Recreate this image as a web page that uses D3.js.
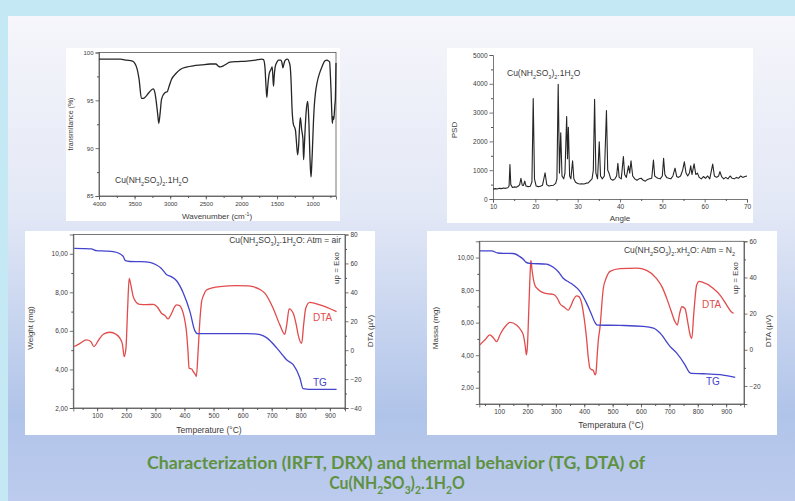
<!DOCTYPE html>
<html>
<head>
<meta charset="utf-8">
<script src="https://cdn.jsdelivr.net/npm/d3@7"></script>
<style>
  body { margin: 0; background: #c4e9f4; }
  svg { display: block; }
</style>
</head>
<body>
<script>
// ---- data ----
const formula = ['Cu(NH', ['2', 'sub'], 'SO', ['3', 'sub'], ')', ['2', 'sub'], '.1H', ['2', 'sub'], 'O'];
const formulaX = ['Cu(NH', ['2', 'sub'], 'SO', ['3', 'sub'], ')', ['2', 'sub'], '.xH', ['2', 'sub'], 'O'];

// IR spectrum: [wavenumber cm-1, transmittance %]
const irSpectrum = [
  [4000, 99.3], [3800, 99.3], [3700, 99.3], [3615, 99.2], [3530, 99.1], [3474, 98.5], [3437, 97.2],
  [3404, 95.2], [3380, 95.2], [3357, 95.3], [3300, 95.8], [3239, 96.2], [3215, 95.8], [3202, 95.2],
  [3175, 93.5], [3160, 92.6], [3140, 93.8], [3122, 95.1], [3075, 95.8], [3042, 95.9], [3010, 96.6],
  [2981, 97.2], [2920, 97.8], [2864, 98.2], [2760, 98.5], [2676, 98.6], [2560, 98.7], [2441, 98.8],
  [2360, 98.8], [2320, 98.55], [2300, 98.5], [2253, 98.6], [2200, 98.85], [2160, 99.0], [2050, 99.05],
  [1925, 99.1], [1800, 99.2], [1714, 99.3], [1690, 99.25], [1670, 98.5], [1655, 96.5], [1643, 95.3],
  [1630, 96.5], [1610, 97.8], [1587, 98.2], [1568, 98.5], [1555, 97], [1549, 96.5], [1540, 97.5],
  [1526, 98.5], [1500, 99.0], [1479, 99.2], [1446, 99.2], [1430, 98.9], [1418, 98.4], [1400, 98.9],
  [1385, 99.2], [1352, 99.3], [1330, 99.0], [1315, 98.5], [1300, 96.5], [1291, 94.4], [1268, 92.4],
  [1254, 92.2], [1240, 91.8], [1230, 90.9], [1211, 89.3], [1195, 90.5], [1188, 91.6], [1174, 93.2],
  [1165, 92.8], [1155, 92.0], [1136, 90.9], [1127, 88.8], [1118, 90], [1108, 91.6], [1089, 94.0],
  [1070, 94.9], [1060, 94], [1052, 92.6], [1040, 89.5], [1033, 88.1], [1023, 87.0], [1014, 88],
  [1005, 89.5], [990, 92.5], [977, 94.4], [960, 95.8], [939, 96.8], [900, 97.9], [869, 98.5],
  [830, 99.1], [798, 99.2], [775, 99.1], [761, 99.0], [752, 97.8], [742, 96.1], [730, 93.5],
  [723, 92.6], [714, 93.3], [704, 93.0], [695, 93.7], [688, 94.5], [681, 95.1], [675, 97.5], [672, 98.9]
];

// XRD pattern: [angle, PSD]
const xrdPattern = [
  [10, 340], [10.5, 360], [11, 350], [11.5, 370], [12, 360], [12.5, 380], [13, 370], [13.5, 390],
  [13.8, 450], [14, 1200], [14.2, 500], [14.6, 400], [15, 420], [15.5, 410], [16, 450], [16.3, 500],
  [16.6, 720], [16.9, 480], [17.2, 470], [17.5, 620], [17.8, 450], [18.3, 430], [18.8, 440], [19.2, 600],
  [19.5, 3490], [19.8, 700], [20.2, 450], [20.7, 430], [21.2, 440], [21.7, 480], [22.3, 910], [22.7, 500],
  [23.2, 450], [23.8, 470], [24.3, 480], [24.8, 540], [25.1, 700], [25.4, 3980], [25.7, 900], [26.0, 2300],
  [26.3, 800], [26.7, 700], [27.0, 900], [27.4, 2860], [27.6, 1400], [27.8, 2490], [28.1, 800], [28.4, 700],
  [28.8, 1330], [29.1, 700], [29.5, 580], [30, 540], [30.5, 520], [31, 530], [31.5, 520], [32, 550],
  [32.5, 560], [33, 640], [33.4, 700], [33.7, 1000], [34, 3460], [34.3, 900], [34.7, 700], [35.1, 1990],
  [35.4, 800], [35.8, 700], [36.3, 800], [36.8, 3070], [37.1, 1000], [37.4, 900], [37.8, 700], [38.3, 650],
  [38.8, 700], [39.2, 800], [39.5, 1240], [39.8, 750], [40.3, 700], [40.8, 1470], [41.1, 850], [41.5, 750],
  [42, 1150], [42.3, 900], [42.6, 1330], [43, 800], [43.5, 700], [44, 650], [44.5, 700], [45, 720],
  [45.5, 650], [46, 620], [46.5, 680], [47, 700], [47.5, 720], [47.9, 1350], [48.2, 800], [48.6, 750],
  [49, 720], [49.5, 700], [50, 800], [50.3, 1410], [50.6, 850], [51, 750], [51.5, 720], [52, 700],
  [52.5, 800], [53, 1070], [53.4, 780], [53.8, 750], [54.3, 800], [54.8, 1000], [55.2, 1290], [55.6, 900],
  [56, 800], [56.4, 900], [56.7, 1150], [57, 850], [57.5, 1220], [57.9, 850], [58.3, 900], [58.7, 750],
  [59.2, 700], [59.7, 780], [60.2, 720], [60.7, 800], [61.2, 700], [61.9, 1210], [62.3, 800], [62.8, 750],
  [63.3, 800], [63.6, 950], [64, 780], [64.5, 700], [65, 750], [65.5, 700], [66, 800], [66.5, 720],
  [67, 700], [67.5, 750], [68, 720], [68.5, 800], [69, 750], [69.5, 780], [70, 800]
];

// thermal analysis in air: [temperature °C, weight mg] and [temperature °C, DTA µV]
const tgAir = [
  [21, 10.28], [60, 10.27], [80, 10.25], [98, 10.16], [130, 10.14], [155, 10.11], [178, 10.0], [190, 9.85],
  [197, 9.64], [212, 9.6], [250, 9.59], [281, 9.55], [304, 9.42], [320, 9.25], [338, 8.93], [356, 8.8],
  [373, 8.6], [396, 7.97], [419, 7.0], [436, 6.0], [445, 5.86], [522, 5.86], [636, 5.85], [660, 5.8],
  [682, 5.65], [717, 5.12], [740, 4.7], [751, 4.5], [774, 4.25], [797, 3.56], [808, 3.0], [830, 2.97], [923, 2.97]
];
const dtaAir = [
  [21, 2.5], [40, 4.5], [63, 7.1], [78, 6], [89, 2.5], [105, 7], [121, 11], [144, 12.4], [165, 11],
  [178, 8.3], [187, 4], [193, -4.4], [199, 1.4], [205, 30], [210, 49.7], [216, 45], [224, 37], [235, 33],
  [247, 31.7], [270, 31.5], [293, 31.7], [310, 29], [321, 25.5], [333, 24], [344, 21.6], [356, 25.5],
  [366, 30], [373, 31.3], [382, 31], [390, 29], [400, 22], [407, 12.9], [412, 0], [416, -12.4], [425, -13],
  [430, -14.7], [438, -17], [441, -18.2], [447, -1], [453, 20], [459, 33.6], [467, 38.5], [476, 41.6],
  [500, 43.3], [522, 43.9], [579, 44.6], [620, 44.5], [636, 43.9], [660, 42], [677, 39.3], [705, 29],
  [728, 17.5], [745, 11], [752, 18], [760, 28.5], [774, 25.5], [785, 17], [791, 10.6], [803, 4.8],
  [810, 18], [817, 29], [831, 33.1], [866, 31.3], [923, 26.7]
];

// thermal analysis in N2
const tgN2 = [
  [32, 10.41], [73, 10.41], [96, 10.28], [120, 10.26], [149, 10.25], [173, 10.06], [186, 9.88], [194, 9.72],
  [208, 9.64], [267, 9.6], [291, 9.4], [310, 9.1], [326, 8.73], [345, 8.5], [361, 8.32], [385, 7.92],
  [408, 7.2], [426, 6.48], [438, 6.0], [446, 5.85], [526, 5.83], [608, 5.77], [644, 5.66], [667, 5.36],
  [702, 4.54], [726, 4.13], [755, 3.41], [770, 2.95], [778, 2.88], [820, 2.86], [879, 2.8], [932, 2.64]
];
const dtaN2 = [
  [32, 2.7], [50, 5.5], [67, 8.2], [80, 6.5], [91, 4.5], [105, 9], [126, 13.7], [138, 15.1], [161, 13.7],
  [178, 10.5], [185, 8.2], [192, 2], [196, -2.8], [200, 3], [204, 20], [210, 45], [212, 49.4], [216, 44],
  [226, 35.7], [237, 33.5], [249, 32], [270, 31], [291, 30.7], [305, 28.5], [314, 25.6], [330, 23.5],
  [344, 21.9], [352, 24], [361, 27.4], [373, 29.8], [380, 29.5], [391, 25.6], [400, 17], [408, 6.3],
  [414, -4], [420, -10.2], [426, -11], [432, -11.5], [438, -13.9], [441, -13], [446, -2], [450, 6],
  [455, 11.8], [467, 33.9], [478, 40], [491, 43.4], [526, 44.9], [585, 45.2], [620, 43.9], [655, 39.4],
  [675, 34.5], [691, 28.3], [705, 22], [720, 15.5], [728, 13.7], [736, 20], [744, 23.8], [755, 22.8],
  [765, 15], [773, 8.2], [779, 6.3], [786, 20], [796, 35.7], [805, 37.8], [814, 37.5], [855, 33.9],
  [880, 30], [902, 24.7], [918, 21], [926, 20.1]
];

const tempTicks = [100, 200, 300, 400, 500, 600, 700, 800, 900];
const tempMinor = d3.range(50, 951, 50);

// ---- page ----
const W = 795, H = 501;
const font = 'Liberation Sans, Arial, sans-serif';
const axisColor = '#555';
const tgColor = '#4343cc';
const dtaColor = '#e24b4b';
const fmtComma = d3.formatLocale({ decimal: ',', thousands: '.', grouping: [3], currency: ['', ''] }).format('.2f');

const svg = d3.select('body').append('svg').attr('width', W).attr('height', H);

const defs = svg.append('defs');
const grad = defs.append('linearGradient').attr('id', 'slide').attr('x1', 0).attr('y1', 0).attr('x2', 0).attr('y2', 1);
grad.append('stop').attr('offset', '0%').attr('stop-color', '#f6f6fb');
grad.append('stop').attr('offset', '40%').attr('stop-color', '#e3e8f6');
grad.append('stop').attr('offset', '82%').attr('stop-color', '#b0c4e9');
grad.append('stop').attr('offset', '100%').attr('stop-color', '#bccbee');

svg.append('rect').attr('width', W).attr('height', H).attr('fill', '#c4e9f4');
svg.append('rect').attr('x', 8).attr('y', 16).attr('width', W - 8).attr('height', H - 16).attr('fill', 'url(#slide)');

// rich text with sub/superscripts
function rich(sel, segs, fs) {
  let cur = 0;
  segs.forEach((s) => {
    const [t, kind] = Array.isArray(s) ? s : [s, null];
    const target = kind === 'sub' ? fs * 0.3 : kind === 'sup' ? -fs * 0.4 : 0;
    sel.append('tspan').attr('dy', target - cur).attr('font-size', kind ? fs * 0.65 : fs).text(t);
    cur = target;
  });
  return sel;
}

function label(x, y, fs, opts = {}) {
  const t = (opts.parent || svg).append('text')
    .attr('x', x).attr('y', y)
    .attr('font-family', opts.family || font)
    .attr('font-size', fs)
    .attr('fill', opts.fill || '#3a3a3a')
    .attr('text-anchor', opts.anchor || 'middle');
  if (opts.rotate) t.attr('transform', `rotate(-90,${x},${y})`);
  return t;
}

function drawAxis(orient, scale, pos, major, minor, fmt, fs) {
  const make = { bottom: d3.axisBottom, left: d3.axisLeft, right: d3.axisRight }[orient];
  const tr = orient === 'bottom' ? `translate(0,${pos})` : `translate(${pos},0)`;
  if (minor) {
    svg.append('g').attr('transform', tr)
      .call(make(scale).tickValues(minor).tickSize(2).tickFormat(''))
      .call((g) => g.select('.domain').remove())
      .selectAll('line').attr('stroke', axisColor);
  }
  const g = svg.append('g').attr('transform', tr)
    .call(make(scale).tickValues(major).tickSize(3.5).tickPadding(2).tickFormat(fmt));
  g.attr('font-family', font).attr('font-size', fs);
  g.selectAll('text').attr('fill', '#3a3a3a');
  g.selectAll('line, path').attr('stroke', axisColor).attr('stroke-width', 0.8);
  return g;
}

function whiteBox(x, y, w, h) {
  svg.append('rect').attr('x', x).attr('y', y).attr('width', w).attr('height', h).attr('fill', '#fff');
}

function frame(x0, y0, x1, y1) {
  svg.append('rect').attr('x', x0).attr('y', y0).attr('width', x1 - x0).attr('height', y1 - y0)
    .attr('fill', 'none').attr('stroke', axisColor).attr('stroke-width', 0.8);
}

function curve(data, x, y, color, width, interp) {
  svg.append('path')
    .datum(data)
    .attr('fill', 'none')
    .attr('stroke', color)
    .attr('stroke-width', width)
    .attr('stroke-linejoin', 'round')
    .attr('d', d3.line().x((d) => x(d[0])).y((d) => y(d[1])).curve(interp));
}

// ---- IR spectrum ----
{
  whiteBox(66, 48, 274, 173);
  const x = d3.scaleLinear().domain([4000, 672]).range([99, 336]);
  const y = d3.scaleLinear().domain([85, 100]).range([196, 52.5]);
  frame(99, 52.5, 336, 196);
  drawAxis('bottom', x, 196, d3.range(4000, 999, -500), d3.range(3750, 699, -250), d3.format('d'), 6);
  drawAxis('left', y, 99, [85, 90, 95, 100], [87.5, 92.5, 97.5], d3.format('d'), 6);
  curve(irSpectrum, x, y, '#262626', 1.3, d3.curveMonotoneX);
  label(73, 124, 7, { rotate: true }).text('transmitance (%)');
  rich(label(217, 219, 8), ['Wavenumber (cm', ['-1', 'sup'], ')'], 8);
  rich(label(115, 183, 8.5, { anchor: 'start' }), formula, 8.5);
}

// ---- XRD pattern ----
{
  whiteBox(447, 48, 306, 175);
  const x = d3.scaleLinear().domain([10, 70]).range([493, 747]);
  const y = d3.scaleLinear().domain([0, 5000]).range([199, 55]);
  drawAxis('bottom', x, 199, d3.range(10, 71, 10), d3.range(15, 70, 10), d3.format('d'), 6.5);
  drawAxis('left', y, 493, d3.range(0, 5001, 1000), d3.range(500, 5000, 1000), d3.format('d'), 6.5);
  curve(xrdPattern, x, y, '#262626', 1.1, d3.curveLinear);
  label(457, 130, 8, { rotate: true }).text('PSD');
  label(620, 221, 8).text('Angle');
  rich(label(507, 76, 8.5, { anchor: 'start' }), formula, 8.5);
}

// ---- TG / DTA in air ----
{
  whiteBox(25, 231, 350, 204);
  const x = d3.scaleLinear().domain([18, 952]).range([73.3, 345]);
  const yW = d3.scaleLinear().domain([2, 11]).range([408, 234.5]);
  const yD = d3.scaleLinear().domain([-40, 80]).range([408, 234.5]);
  frame(73.3, 234.5, 345, 408);
  drawAxis('bottom', x, 408, tempTicks, tempMinor, d3.format('d'), 6.5);
  drawAxis('left', yW, 73.3, [2, 4, 6, 8, 10], [3, 5, 7, 9], fmtComma, 6.5);
  drawAxis('right', yD, 345, d3.range(-40, 81, 20), d3.range(-30, 80, 20), d3.format('d'), 6.5);
  curve(dtaAir, x, yD, dtaColor, 1.3, d3.curveMonotoneX);
  curve(tgAir, x, yW, tgColor, 1.3, d3.curveMonotoneX);
  label(33, 328, 8, { rotate: true }).text('Weight (mg)');
  label(373, 331, 8, { rotate: true }).text('DTA (µV)');
  label(339, 268, 8, { rotate: true }).text('up = Exo');
  rich(label(341, 243, 8.5, { anchor: 'end' }), formula.concat(': Atm = air'), 8.5);
  label(209, 433, 8.5).text('Temperature (°C)');
  label(313, 321, 10, { anchor: 'start', fill: dtaColor }).text('DTA');
  label(313, 386, 10, { anchor: 'start', fill: tgColor }).text('TG');
}

// ---- TG / DTA in N2 ----
{
  whiteBox(427, 231, 350, 204);
  const x = d3.scaleLinear().domain([30, 963]).range([479.3, 744]);
  const yM = d3.scaleLinear().domain([1, 11]).range([404, 241.3]);
  const yD = d3.scaleLinear().domain([-30, 60]).range([404, 241.3]);
  frame(479.3, 241.3, 744, 404);
  drawAxis('bottom', x, 404, tempTicks, tempMinor, d3.format('d'), 6.5);
  drawAxis('left', yM, 479.3, [2, 4, 6, 8, 10], [3, 5, 7, 9], fmtComma, 6.5);
  drawAxis('right', yD, 744, d3.range(-20, 61, 20), d3.range(-30, 60, 20), d3.format('d'), 6.5);
  curve(dtaN2, x, yD, dtaColor, 1.3, d3.curveMonotoneX);
  curve(tgN2, x, yM, tgColor, 1.3, d3.curveMonotoneX);
  label(438, 328, 8, { rotate: true }).text('Massa (mg)');
  label(771, 331, 8, { rotate: true }).text('DTA (µV)');
  label(738, 278, 8, { rotate: true }).text('up = Exo');
  rich(label(735, 253, 8.5, { anchor: 'end' }), formulaX.concat(': Atm = N', [['2', 'sub']]), 8.5);
  label(611, 428, 8.5).text('Temperatura (°C)');
  label(702, 308, 10, { anchor: 'start', fill: dtaColor }).text('DTA');
  label(706, 385, 10, { anchor: 'start', fill: tgColor }).text('TG');
}

// ---- slide caption ----
const captionColor = '#5f9140';
const captionFont = 'Lato, Open Sans, sans-serif';
label(396, 469, 16.5, { family: captionFont, fill: captionColor })
  .attr('font-weight', 'bold')
  .attr('textLength', 498)
  .attr('lengthAdjust', 'spacingAndGlyphs')
  .text('Characterization (IRFT, DRX) and thermal behavior (TG, DTA) of');
// second line, squeezed a little like the first one
const line2 = svg.append('g').attr('transform', 'translate(397,0) scale(0.96,1)');
rich(label(0, 489, 16.5, { parent: line2, family: captionFont, fill: captionColor }).attr('font-weight', 'bold'), formula, 16.5);
</script>
</body>
</html>
